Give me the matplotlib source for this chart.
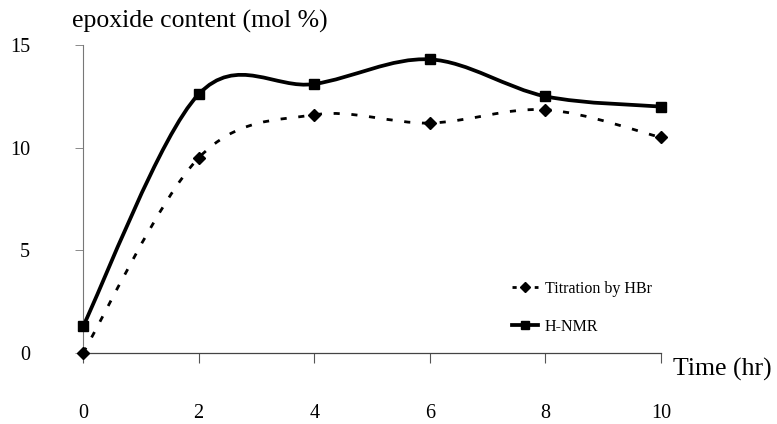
import numpy as np
import matplotlib.pyplot as plt
from matplotlib.path import Path
from matplotlib.patches import PathPatch
from matplotlib.lines import Line2D

plt.rcParams['font.family'] = ['Liberation Serif', 'DejaVu Serif']

# datos
tiempo = [0, 2, 4, 6, 8, 10]
titracion_hbr = [0.0, 9.5, 11.6, 11.2, 11.85, 10.5]
h_nmr = [1.3, 12.6, 13.1, 14.3, 12.5, 12.0]
ticks_x = [0, 2, 4, 6, 8, 10]
ticks_y = [0, 5, 10, 15]


def curva_suave(x, y):
    # curva tipo Excel (Bezier con puntos de control Catmull-Rom)
    x = np.asarray(x, float)
    y = np.asarray(y, float)
    p = np.column_stack([x, y])
    n = len(p)
    verts = [p[0]]
    codes = [Path.MOVETO]
    for i in range(n - 1):
        p0 = p[i - 1] if i > 0 else p[i]
        p3 = p[i + 2] if i + 2 < n else p[i + 1]
        c1 = p[i] + (p[i + 1] - p0) / 6
        c2 = p[i + 1] - (p3 - p[i]) / 6
        verts += [c1, c2, p[i + 1]]
        codes += [Path.CURVE4] * 3
    return Path(verts, codes)


fig = plt.figure(figsize=(7.77, 4.24), dpi=100)
ax = fig.add_axes([83 / 777, 1 - 353 / 424, 578 / 777, 308 / 424])

ax.add_patch(PathPatch(curva_suave(tiempo, titracion_hbr), fill=False, lw=2.0,
                       ls=(0, (2.2, 4.2)), color='black', capstyle='butt'))
ax.add_patch(PathPatch(curva_suave(tiempo, h_nmr), fill=False, lw=2.7,
                       color='black'))
ax.plot(tiempo, titracion_hbr, ls='none', marker='D', ms=6, color='black', clip_on=False, zorder=5)
ax.plot(tiempo, h_nmr, ls='none', marker='s', ms=7.5, color='black', clip_on=False, zorder=5)

ax.set_xlim(0, 10)
ax.set_ylim(0, 15)
ax.set_xticks(ticks_x)
ax.set_yticks(ticks_y)
for s in ['top', 'right']:
    ax.spines[s].set_visible(False)
ax.spines['left'].set_color('#777777')
ax.spines['left'].set_linewidth(0.8)
ax.spines['bottom'].set_color('#444444')
ax.spines['bottom'].set_linewidth(0.9)
ax.tick_params(axis='y', direction='out', length=6, width=0.6, color='#777777',
               pad=32, labelsize=14.5)
ax.tick_params(axis='x', direction='out', length=7, width=0.8, color='#555555',
               pad=30, labelsize=14.5)

fig.text(72 / 777, 1 - 21 / 424, 'epoxide content (mol %)', fontsize=18.5,
         ha='left', va='center')
fig.text(673 / 777, 1 - 369 / 424, 'Time (hr)', fontsize=18.5, ha='left', va='center')

handles = [
    Line2D([], [], color='black', lw=2.0, ls=(0, (1.5, 2.5)), marker='D', ms=5),
    Line2D([], [], color='black', lw=2.7, marker='s', ms=6),
]
ax.legend(handles, ['Titration by HBr', 'H-NMR'], loc='upper left',
          bbox_to_anchor=(504 / 777, 1 - 273 / 424), bbox_transform=fig.transFigure,
          frameon=False, fontsize=11.5, handlelength=1.6, handletextpad=0.45,
          labelspacing=1.35, borderpad=0)

fig.savefig('out.png', dpi=100)
